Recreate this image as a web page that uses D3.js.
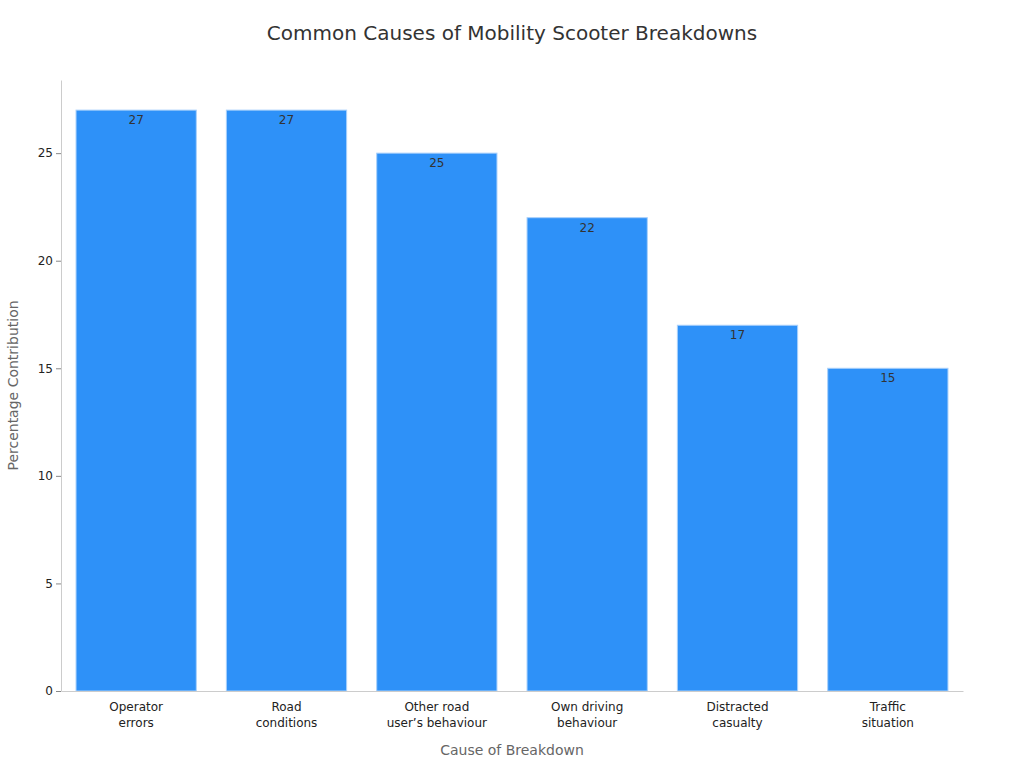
<!DOCTYPE html>
<html>
<head>
<meta charset="utf-8">
<script src="https://cdn.jsdelivr.net/npm/d3@7"></script>
<style>
body { margin: 0; background: #fff; font-family: "DejaVu Sans", sans-serif; }
</style>
</head>
<body>
<svg id="chart" width="1024" height="768"></svg>
<script>
// chart data
var categories = [["Operator", "errors"], ["Road", "conditions"], ["Other road", "user\u2019s behaviour"],
	["Own driving", "behaviour"], ["Distracted", "casualty"], ["Traffic", "situation"]];
var values = [27, 27, 25, 22, 17, 15];
var yTicks = [0, 5, 10, 15, 20, 25];

var margin = { top: 80, right: 61, bottom: 77, left: 61 };
var width = 1024 - margin.left - margin.right;
var height = 768 - margin.top - margin.bottom;

var svg = d3.select('#chart');
var g = svg.append('g').attr('transform', 'translate(' + margin.left + ',' + margin.top + ')');

var x = d3.scaleBand().domain(d3.range(values.length)).range([0, width]).paddingInner(0.2).paddingOuter(0.1);
var y = d3.scaleLinear().domain([0, 28.4]).range([height, 0]);

svg.append('text').attr('x', 512).attr('y', 40).attr('text-anchor', 'middle')
	.attr('font-size', 20).attr('fill', '#333').text('Common Causes of Mobility Scooter Breakdowns');

g.selectAll('rect.bar').data(values).enter().append('rect')
	.attr('class', 'bar')
	.attr('x', function(d, i) { return x(i); })
	.attr('y', function(d) { return y(d); })
	.attr('width', x.bandwidth())
	.attr('height', function(d) { return height - y(d); })
	.attr('fill', '#2e91f8')
	.attr('stroke', '#a9d0fb').attr('stroke-width', 1);

g.selectAll('text.val').data(values).enter().append('text')
	.attr('x', function(d, i) { return x(i) + x.bandwidth() / 2; })
	.attr('y', function(d) { return y(d) + 14; })
	.attr('text-anchor', 'middle').attr('font-size', 12).attr('fill', '#333')
	.text(function(d) { return d; });

// axes
var yAxis = g.append('g').call(d3.axisLeft(y).tickValues(yTicks).tickSize(5).tickSizeOuter(0));
yAxis.selectAll('text').attr('font-size', 12).attr('fill', '#222').attr('font-family', 'DejaVu Sans');
yAxis.selectAll('line').attr('stroke', '#888');
yAxis.select('.domain').attr('stroke', '#ccc');

var xAxis = g.append('g').attr('transform', 'translate(0,' + height + ')')
	.call(d3.axisBottom(x).tickSize(0).tickSizeOuter(0).tickFormat(''));
xAxis.select('.domain').attr('stroke', '#ccc');
xAxis.selectAll('.tick').each(function(d) {
	var t = d3.select(this).append('text').attr('fill', '#222').attr('font-size', 12)
		.attr('text-anchor', 'middle').attr('font-family', 'DejaVu Sans');
	categories[d].forEach(function(line, k) {
		t.append('tspan').attr('x', 0).attr('y', 20 + k * 16).text(line);
	});
});

svg.append('text').attr('x', margin.left + width / 2).attr('y', 755).attr('text-anchor', 'middle')
	.attr('font-size', 14).attr('fill', '#666').text('Cause of Breakdown');
svg.append('text').attr('transform', 'translate(18,' + (margin.top + height / 2) + ') rotate(-90)')
	.attr('text-anchor', 'middle').attr('font-size', 14).attr('fill', '#666').text('Percentage Contribution');
</script>
</body>
</html>
